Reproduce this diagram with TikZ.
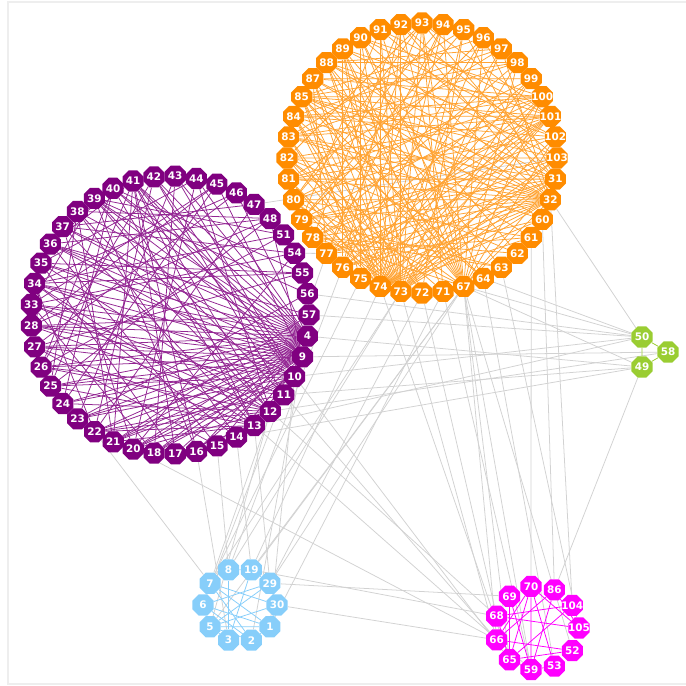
\documentclass[tikz,border=0pt]{standalone}
\usepackage{fontspec}
\setsansfont{DejaVu Sans}
\usetikzlibrary{shapes.geometric, backgrounds}

\definecolor{grpPurple}{RGB}{128,0,128}
\definecolor{grpOrange}{RGB}{255,140,0}
\definecolor{grpBlue}{RGB}{135,206,250}
\definecolor{grpMagenta}{RGB}{255,0,255}
\definecolor{grpGreen}{RGB}{154,205,50}
\definecolor{linkGray}{RGB}{210,210,210}
\definecolor{frameGray}{RGB}{238,238,238}

\tikzset{
    vertex/.style={regular polygon, regular polygon sides=8, minimum size=0.57cm,
        inner sep=0pt, draw=none, text=white,
        font=\sffamily\bfseries\fontsize{7.4}{8}\selectfont},
    link/.style={line width=0.55pt},
    crosslink/.style={link, draw=linkGray},
}

\begin{document}
\begin{tikzpicture}[x=0.025cm, y=-0.025cm]
    \useasboundingbox (0,0) rectangle (686,686);
    \draw[frameGray, line width=1.4pt] (8,2) rectangle (700,684);

    % purple ring
    \foreach \k [count=\i from 0] in {41,42,43,44,45,46,47,48,51,54,55,56,57,4,9,10,11,12,13,14,15,16,17,18,20,21,22,23,24,25,26,27,28,33,34,35,36,37,38,39,40}
        \node[vertex, fill=grpPurple] (n\k) at ([shift={(170,315)}]{8.78*\i-105.4}:139) {\makebox[0pt]{\k}};

    % orange ring
    \foreach \k [count=\i from 0] in {93,94,95,96,97,98,99,100,101,102,103,31,32,60,61,62,63,64,67,71,72,73,74,75,76,77,78,79,80,81,82,83,84,85,87,88,89,90,91,92}
        \node[vertex, fill=grpOrange] (n\k) at ([shift={(422,158)}]{9*\i-90}:135) {\makebox[0pt]{\k}};

    % blue ring
    \foreach \k [count=\i from 0] in {8,19,29,30,1,2,3,5,6,7}
        \node[vertex, fill=grpBlue] (n\k) at ([shift={(240,605)}]{36*\i-108}:37) {\makebox[0pt]{\k}};

    % magenta ring
    \foreach \k [count=\i from 0] in {70,86,104,105,52,53,59,65,66,68,69}
        \node[vertex, fill=grpMagenta] (n\k) at ([shift={(537,628)}]{32.73*\i-98.2}:42) {\makebox[0pt]{\k}};

    % green triangle
    \node[vertex, fill=grpGreen] (n50) at (642,337) {50};
    \node[vertex, fill=grpGreen] (n58) at (668,352) {58};
    \node[vertex, fill=grpGreen] (n49) at (642,367) {49};

    \begin{pgfonlayer}{background}
        % links between groups
        \foreach \a/\b in {103/47, 32/50, 61/70, 60/86, 67/50, 64/50, 67/49, 67/59, 67/65, 67/66,
                67/52, 67/5, 67/19, 67/29, 64/53, 63/105, 73/8, 73/7, 74/19, 72/29, 71/1, 75/7,
                73/66, 74/65, 72/68, 71/59, 57/50, 56/50, 4/49, 9/58, 10/50, 11/49, 12/58, 13/50,
                14/49, 10/65, 11/66, 12/68, 13/59, 20/66, 22/7, 15/8, 14/19, 13/29, 12/5, 11/6,
                16/3, 10/1, 29/69, 30/66, 19/68, 54/77, 49/86, 32/104, 8/76, 7/77, 9/2}
            \draw[crosslink] (n\a) -- (n\b);

        % purple links
        \foreach \a/\b in {4/41, 4/42, 4/44, 4/46, 4/36, 4/35, 4/34, 4/33, 4/28, 4/27, 4/26, 4/25,
                4/24, 4/23, 4/22, 4/21, 4/20, 4/18, 4/17, 4/16, 4/15, 4/37, 4/39, 4/40, 4/38, 4/43,
                9/41, 9/45, 9/48, 9/40, 9/39, 9/37, 9/36, 9/35, 9/34, 9/33, 9/28, 9/27, 9/26, 9/25,
                9/24, 9/23, 9/22, 9/21, 9/20, 9/18, 9/16, 9/14, 9/13,
                10/41, 10/42, 10/43, 10/36, 10/34, 10/28, 10/27, 10/25, 10/23, 10/21, 10/20, 10/18,
                12/41, 12/44, 12/39, 12/38, 12/35, 12/33, 12/28, 12/26, 12/24, 12/22, 12/20,
                13/41, 13/40, 13/37, 13/34, 13/27, 13/25, 13/22, 13/21, 13/17,
                11/42, 11/39, 11/33, 11/26, 11/22,
                41/16, 41/17, 41/25, 41/36, 41/21, 42/22, 42/26, 43/18, 43/23, 44/35, 44/20,
                45/28, 45/33, 46/27, 46/34, 47/37, 47/22, 48/38, 48/36, 48/28, 48/25, 51/39,
                51/26, 51/34, 54/37, 54/33, 54/20, 55/40, 55/35, 55/27, 56/39, 56/23, 57/36,
                57/28, 57/21, 14/38, 14/34, 15/36, 15/27, 16/39, 17/35, 18/33, 20/37, 21/38,
                22/34, 24/40, 25/38, 26/40, 27/35, 28/34, 33/39, 36/40, 34/55, 24/45}
            \draw[link, grpPurple!85] (n\a) -- (n\b);

        % orange links
        \foreach \a/\b in {73/93, 73/91, 73/90, 73/89, 73/88, 73/87, 73/85, 73/84, 73/83, 73/82,
                73/81, 73/80, 73/79, 73/97, 73/99, 73/100, 73/101, 73/102, 73/103, 73/31, 73/32,
                73/95, 73/92,
                74/92, 74/94, 74/96, 74/98, 74/100, 74/101, 74/103, 74/31, 74/32, 74/60, 74/61,
                74/85, 74/84, 74/83, 74/81, 74/80, 74/89, 74/91, 74/87,
                67/85, 67/87, 67/88, 67/89, 67/90, 67/91, 67/92, 67/93, 67/94, 67/96, 67/98,
                67/100, 67/102, 67/31, 67/32, 67/82, 67/80, 67/78,
                32/85, 32/84, 32/83, 32/82, 32/81, 32/80, 32/79, 32/78, 32/77, 32/76, 32/75,
                32/87, 32/88, 32/90, 32/92, 32/95, 32/97,
                31/85, 31/83, 31/81, 31/79, 31/77, 31/76, 31/88, 31/91, 31/93, 31/96,
                101/85, 101/84, 101/83, 101/82, 101/80, 101/78, 101/77, 101/76, 101/75, 101/89,
                101/91, 101/93,
                100/87, 100/85, 100/84, 100/83, 100/81, 100/79, 100/76, 100/90,
                103/85, 103/82, 103/79, 103/77, 103/89, 103/92,
                102/84, 102/81, 102/78, 102/88, 102/90,
                93/80, 93/77, 92/78, 92/76, 91/79, 90/75, 89/76, 88/97, 88/98, 87/99, 85/98,
                85/96, 94/77, 95/79, 96/76, 97/81, 98/83, 99/80, 99/75, 60/87, 60/83, 61/85,
                61/80, 62/89, 62/82, 63/88, 63/78, 64/90, 64/84, 71/93, 71/89, 72/95, 72/84,
                75/97, 76/94, 77/99, 78/98, 79/96, 80/94, 82/93, 83/95, 84/97, 60/76, 61/77,
                62/78, 63/79, 64/85, 71/82, 72/88, 75/85, 77/87}
            \draw[link, grpOrange!80] (n\a) -- (n\b);

        % blue links
        \foreach \a/\b in {7/30, 7/1, 7/2, 5/1, 5/29, 5/30, 6/1, 6/2, 5/2, 8/3, 6/29, 3/19,
                7/6, 8/19, 19/29, 29/30, 30/1, 1/2, 3/5}
            \draw[link, grpBlue] (n\a) -- (n\b);

        % magenta links
        \foreach \a/\b in {70/59, 70/65, 70/66, 70/53, 70/105, 86/59, 86/66, 86/105, 68/104,
                68/105, 66/52, 65/52, 69/65, 68/65, 59/53, 65/59, 69/59, 104/65}
            \draw[link, grpMagenta] (n\a) -- (n\b);

        % green links
        \draw[link, grpGreen] (n50) -- (n58) -- (n49) -- (n50);
    \end{pgfonlayer}
\end{tikzpicture}
\end{document}
